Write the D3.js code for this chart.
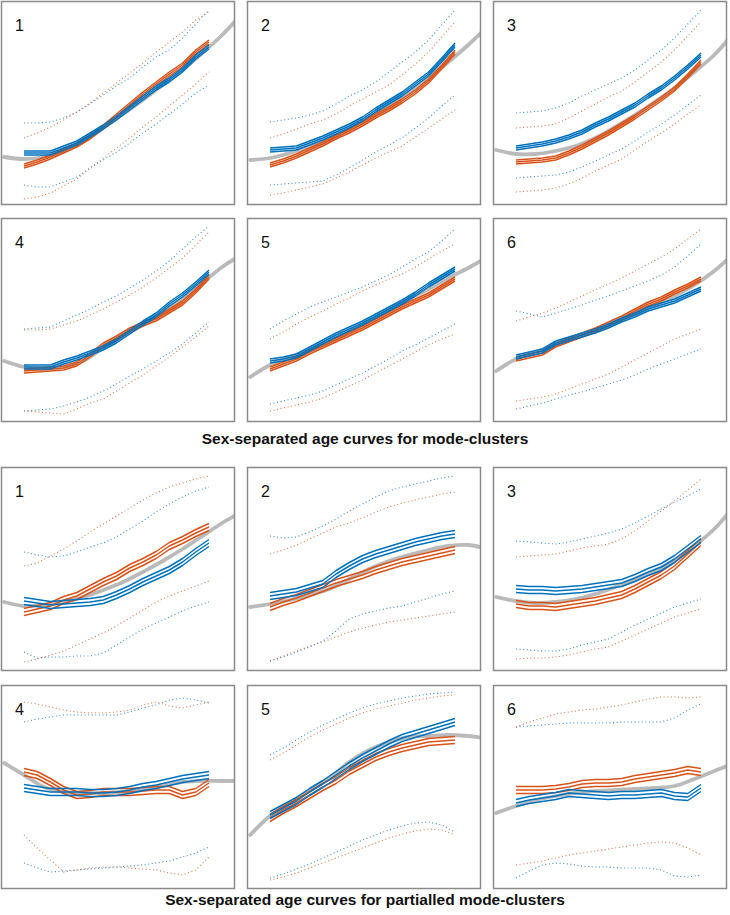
<!DOCTYPE html>
<html>
<head>
<meta charset="utf-8">
<script src="https://cdn.jsdelivr.net/npm/d3@7"></script>
<style>
  body { margin: 0; background: #fff; }
  svg { display: block; }
</style>
</head>
<body>
<svg id="chart" width="730" height="915"></svg>
<script>
// ages (years) at which the sex-separated curves are sampled
const ages = [8, 9, 10, 11, 12, 13, 14, 15, 16, 17, 18, 19, 20, 21, 22];
// ages of the whole-sample fit (grey)
const fitAges = [6.5, 8, 9.5, 11, 12.5, 14, 15.5, 17, 18.5, 20, 21.5, 23, 24.2];
const panelLabels = ["1", "2", "3", "4", "5", "6"];
const sectionTitles = [
  "Sex-separated age curves for mode-clusters",
  "Sex-separated age curves for partialled mode-clusters"
];

// ---- mode-clusters ----
const modeFit = [
  [48, 46, 48, 54, 64, 77, 91, 105, 120, 135, 152, 170, 187],
  [45, 47, 52, 58, 65, 76, 88, 99, 112, 127, 143, 160, 175],
  [55, 51, 51, 54, 59, 67, 78, 90, 103, 117, 133, 150, 168],
  [61, 55, 53, 55, 61, 74, 86, 97, 109, 123, 139, 155, 165],
  [45, 57, 65, 72, 80, 90, 101, 112, 123, 133, 144, 154, 163],
  [51, 63, 70, 77, 84, 91, 99, 108, 117, 126, 137, 151, 165]
];
const modeBlue = [
  [52, 52, 52, 57, 62, 70, 78, 87, 97, 107, 117, 125, 135, 148, 158],
  [55, 56, 57, 62, 67, 73, 79, 86, 95, 103, 111, 121, 131, 145, 160],
  [57, 59, 61, 64, 68, 73, 80, 86, 93, 100, 109, 117, 127, 138, 150],
  [55, 55, 55, 60, 64, 69, 74, 81, 90, 99, 107, 118, 127, 138, 150],
  [61, 63, 66, 73, 80, 87, 93, 99, 106, 113, 120, 128, 137, 145, 153],
  [65, 68, 71, 79, 83, 87, 91, 96, 102, 107, 113, 117, 121, 127, 133]
];
const modeOrange = [
  [39, 43, 48, 54, 60, 68, 78, 89, 100, 111, 121, 131, 140, 153, 163],
  [40, 44, 49, 55, 61, 68, 74, 81, 89, 96, 104, 113, 124, 138, 153],
  [43, 44, 45, 47, 52, 58, 65, 72, 80, 88, 97, 106, 116, 129, 143],
  [51, 52, 53, 54, 58, 67, 77, 84, 92, 98, 103, 111, 119, 131, 145],
  [53, 58, 63, 70, 76, 82, 88, 94, 101, 108, 115, 121, 127, 135, 143],
  [63, 66, 69, 77, 82, 87, 92, 98, 104, 111, 118, 123, 130, 136, 143]
];
const modeBlueHi = [
  [82, 82, 83, 87, 93, 101, 110, 119, 127, 138, 148, 155, 167, 181, 195],
  [83, 85, 87, 90, 94, 101, 109, 115, 123, 133, 143, 153, 165, 180, 195],
  [92, 93, 94, 97, 102, 109, 115, 121, 127, 135, 145, 155, 167, 181, 195],
  [93, 94, 95, 101, 107, 113, 120, 126, 134, 142, 151, 161, 173, 185, 196],
  [93, 101, 108, 115, 120, 125, 130, 135, 141, 147, 155, 163, 170, 181, 193],
  [111, 108, 105, 109, 113, 117, 122, 126, 131, 136, 141, 147, 155, 166, 178]
];
const modeBlueLo = [
  [20, 18, 18, 23, 28, 37, 45, 53, 62, 72, 81, 91, 101, 112, 120],
  [20, 21, 22, 23, 24, 30, 37, 45, 53, 60, 67, 77, 87, 99, 110],
  [27, 28, 29, 30, 33, 38, 44, 50, 56, 64, 73, 81, 90, 100, 110],
  [11, 12, 13, 16, 20, 25, 31, 38, 46, 53, 61, 69, 78, 89, 100],
  [18, 21, 24, 27, 31, 37, 43, 49, 56, 63, 71, 77, 84, 91, 98],
  [13, 16, 19, 23, 27, 30, 34, 38, 42, 47, 53, 58, 63, 68, 73]
];
const modeOrangeHi = [
  [67, 72, 78, 85, 93, 102, 112, 122, 132, 142, 153, 163, 173, 185, 193],
  [67, 71, 76, 81, 85, 91, 99, 106, 113, 120, 130, 141, 153, 168, 183],
  [77, 78, 79, 81, 87, 94, 101, 108, 114, 123, 133, 143, 155, 169, 183],
  [92, 92, 93, 97, 101, 107, 113, 120, 127, 135, 144, 154, 164, 177, 190],
  [83, 90, 98, 105, 111, 118, 124, 131, 137, 143, 148, 155, 163, 171, 178],
  [101, 105, 109, 114, 120, 126, 132, 138, 144, 151, 158, 165, 173, 183, 193]
];
const modeOrangeLo = [
  [6, 8, 12, 19, 26, 37, 47, 57, 67, 78, 88, 99, 110, 121, 133],
  [10, 12, 15, 18, 21, 27, 33, 40, 47, 53, 59, 68, 77, 86, 95],
  [13, 14, 15, 17, 21, 27, 34, 40, 46, 55, 64, 72, 81, 91, 100],
  [11, 10, 9, 8, 13, 19, 23, 31, 39, 47, 56, 65, 75, 85, 96],
  [11, 14, 17, 20, 24, 30, 36, 42, 49, 56, 63, 70, 77, 83, 88],
  [21, 23, 25, 28, 33, 38, 43, 48, 55, 62, 69, 76, 83, 88, 93]
];
const modeSpread = [2, 2, 2, 2, 2, 2];

// ---- partialled mode-clusters ----
const partFit = [
  [69, 65, 66, 69, 74, 81, 89, 99, 110, 122, 135, 148, 157],
  [64, 67, 71, 76, 82, 92, 102, 110, 116, 121, 125, 126, 123],
  [74, 70, 68, 69, 72, 77, 84, 92, 100, 111, 125, 142, 160],
  [126, 114, 102, 97, 96, 96, 97, 99, 103, 107, 108, 108, 108],
  [54, 73, 86, 99, 111, 127, 139, 147, 152, 153, 154, 153, 151],
  [76, 83, 89, 93, 96, 98, 99, 100, 101, 103, 110, 118, 124]
];
const partBlue = [
  [70, 68, 66, 67, 68, 69, 71, 76, 82, 89, 95, 101, 109, 119, 128],
  [75, 77, 79, 83, 87, 97, 105, 112, 117, 121, 125, 129, 132, 135, 137],
  [82, 81, 81, 80, 81, 82, 84, 86, 88, 93, 99, 104, 112, 122, 132],
  [101, 99, 97, 97, 97, 96, 96, 97, 99, 102, 104, 107, 110, 112, 114],
  [74, 81, 88, 97, 105, 114, 123, 131, 138, 145, 151, 155, 159, 163, 167],
  [86, 89, 91, 93, 96, 95, 94, 93, 94, 94, 95, 96, 93, 92, 101]
];
const partOrange = [
  [59, 62, 65, 71, 75, 82, 89, 95, 103, 109, 116, 125, 131, 138, 144],
  [64, 69, 73, 78, 83, 88, 92, 96, 101, 105, 109, 112, 115, 118, 121],
  [67, 65, 65, 64, 66, 68, 70, 73, 76, 82, 89, 96, 105, 117, 129],
  [117, 114, 107, 99, 94, 95, 97, 97, 97, 98, 99, 99, 94, 97, 106],
  [71, 79, 86, 94, 102, 109, 118, 125, 132, 137, 141, 144, 147, 148, 149],
  [99, 99, 99, 100, 102, 105, 106, 106, 107, 110, 112, 114, 116, 119, 117]
];
const partBlueHi = [
  [119, 116, 114, 115, 119, 124, 128, 134, 142, 150, 159, 167, 174, 180, 184],
  [135, 133, 134, 139, 145, 152, 160, 167, 174, 180, 184, 187, 190, 193, 195],
  [130, 129, 128, 127, 129, 132, 135, 138, 142, 148, 155, 162, 169, 175, 182],
  [167, 170, 172, 174, 174, 174, 174, 174, 177, 181, 184, 189, 191, 189, 186],
  [134, 141, 149, 157, 164, 170, 176, 181, 185, 188, 191, 193, 195, 196, 197],
  [162, 163, 164, 165, 166, 166, 166, 166, 167, 167, 167, 167, 171, 179, 185]
];
const partBlueLo = [
  [19, 13, 14, 14, 15, 15, 18, 26, 34, 42, 48, 54, 60, 65, 69],
  [10, 14, 19, 24, 30, 40, 52, 57, 60, 63, 65, 69, 73, 77, 80],
  [22, 21, 20, 20, 22, 26, 29, 32, 39, 46, 52, 58, 64, 68, 72],
  [26, 21, 17, 18, 19, 20, 21, 22, 23, 24, 26, 28, 32, 36, 42],
  [11, 15, 20, 25, 31, 37, 43, 49, 54, 59, 63, 66, 67, 64, 57],
  [11, 18, 24, 26, 25, 23, 22, 22, 21, 21, 21, 19, 13, 12, 14]
];
const partOrangeHi = [
  [105, 108, 115, 122, 130, 139, 147, 155, 163, 171, 178, 184, 188, 192, 195],
  [117, 121, 126, 132, 138, 144, 148, 153, 159, 164, 168, 171, 174, 177, 179],
  [114, 115, 116, 117, 120, 123, 125, 127, 132, 140, 150, 160, 170, 181, 192],
  [187, 185, 182, 179, 177, 176, 176, 177, 179, 184, 187, 183, 181, 184, 187],
  [129, 136, 144, 152, 159, 165, 171, 176, 180, 183, 186, 189, 191, 193, 194],
  [162, 167, 171, 175, 177, 179, 180, 182, 184, 187, 190, 192, 192, 191, 192]
];
const partOrangeLo = [
  [9, 12, 16, 20, 26, 32, 38, 45, 53, 61, 69, 75, 80, 85, 90],
  [10, 15, 20, 25, 29, 34, 39, 43, 46, 49, 51, 53, 55, 57, 59],
  [12, 13, 13, 14, 16, 19, 22, 24, 30, 36, 42, 48, 54, 58, 62],
  [54, 41, 29, 17, 19, 21, 22, 22, 21, 20, 19, 16, 14, 19, 32],
  [9, 12, 16, 21, 26, 31, 36, 41, 46, 51, 55, 58, 60, 59, 54],
  [24, 26, 28, 31, 34, 36, 38, 40, 42, 44, 46, 47, 46, 41, 34]
];
const partSpread = [3.5, 3.5, 3.5, 3.5, 3.5, 3.5];

const blue = "#0072BD";
const orange = "#D95319";
const grey = "#bababa";

const svg = d3.select("#chart");

const panelW = 234;
const panelH = 204;
const colX = [1, 247, 493];
const sectionRows = [[1, 218], [467, 685]];
const titleY = [444, 905];

const x = d3.scaleLinear().domain([6.26, 23.97]).range([0, panelW]);
const y = d3.scaleLinear().domain([0, 204]).range([panelH, 0]);

const line = d3.line()
  .x(d => x(d[0]))
  .y(d => y(d[1]));

const smooth = d3.line()
  .x(d => x(d[0]))
  .y(d => y(d[1]))
  .curve(d3.curveCatmullRom);

const sections = [
  { fit: modeFit, blue: modeBlue, orange: modeOrange, blueHi: modeBlueHi, blueLo: modeBlueLo,
    orangeHi: modeOrangeHi, orangeLo: modeOrangeLo, spread: modeSpread },
  { fit: partFit, blue: partBlue, orange: partOrange, blueHi: partBlueHi, blueLo: partBlueLo,
    orangeHi: partOrangeHi, orangeLo: partOrangeLo, spread: partSpread }
];

const defs = svg.append("defs");
defs.append("clipPath")
  .attr("id", "panel-clip")
  .append("rect")
  .attr("width", panelW)
  .attr("height", panelH);

sections.forEach((s, si) => {
  for (let i = 0; i < 6; i++) {
    const px = colX[i % 3];
    const py = sectionRows[si][Math.floor(i / 3)];
    const g = svg.append("g").attr("transform", `translate(${px},${py})`);
    const plot = g.append("g").attr("clip-path", "url(#panel-clip)");

    // dotted spread curves
    const dotted = [
      [s.blueHi[i], blue], [s.blueLo[i], blue],
      [s.orangeHi[i], orange], [s.orangeLo[i], orange]
    ];
    dotted.forEach(([vals, col]) => {
      plot.append("path")
        .attr("d", line(ages.map((a, k) => [a, vals[k]])))
        .attr("fill", "none")
        .attr("stroke", col)
        .attr("stroke-opacity", 0.8)
        .attr("stroke-width", 1.1)
        .attr("stroke-dasharray", "1,2.6");
    });

    // whole-sample fit
    plot.append("path")
      .attr("d", smooth(fitAges.map((a, k) => [a, s.fit[i][k]])))
      .attr("fill", "none")
      .attr("stroke", grey)
      .attr("stroke-width", 3.8)
      .attr("stroke-linecap", "round");

    // sex curves: mean with +/- band
    const sp = s.spread[i];
    [[s.orange[i], orange], [s.blue[i], blue]].forEach(([vals, col]) => {
      [-sp, 0, sp].forEach(off => {
        plot.append("path")
          .attr("d", line(ages.map((a, k) => [a, vals[k] + off])))
          .attr("fill", "none")
          .attr("stroke", col)
          .attr("stroke-width", 1.5)
          .attr("stroke-linejoin", "round");
      });
    });

    g.append("rect")
      .attr("x", 0.5)
      .attr("y", 0.5)
      .attr("width", panelW - 1)
      .attr("height", panelH - 1)
      .attr("fill", "none")
      .attr("stroke", "#8a8a8a")
      .attr("stroke-width", 1.5);

    g.append("text")
      .attr("x", 14)
      .attr("y", 30)
      .style("font-family", "'Liberation Sans', Arial, sans-serif")
      .style("font-size", "16px")
      .style("fill", "#111")
      .text(panelLabels[i]);
  }

  svg.append("text")
    .attr("x", 365)
    .attr("y", titleY[si])
    .attr("text-anchor", "middle")
    .style("font-family", "'Liberation Sans', Arial, sans-serif")
    .style("font-size", "15.5px")
    .style("font-weight", "bold")
    .style("fill", "#111")
    .text(sectionTitles[si]);
});
</script>
</body>
</html>
